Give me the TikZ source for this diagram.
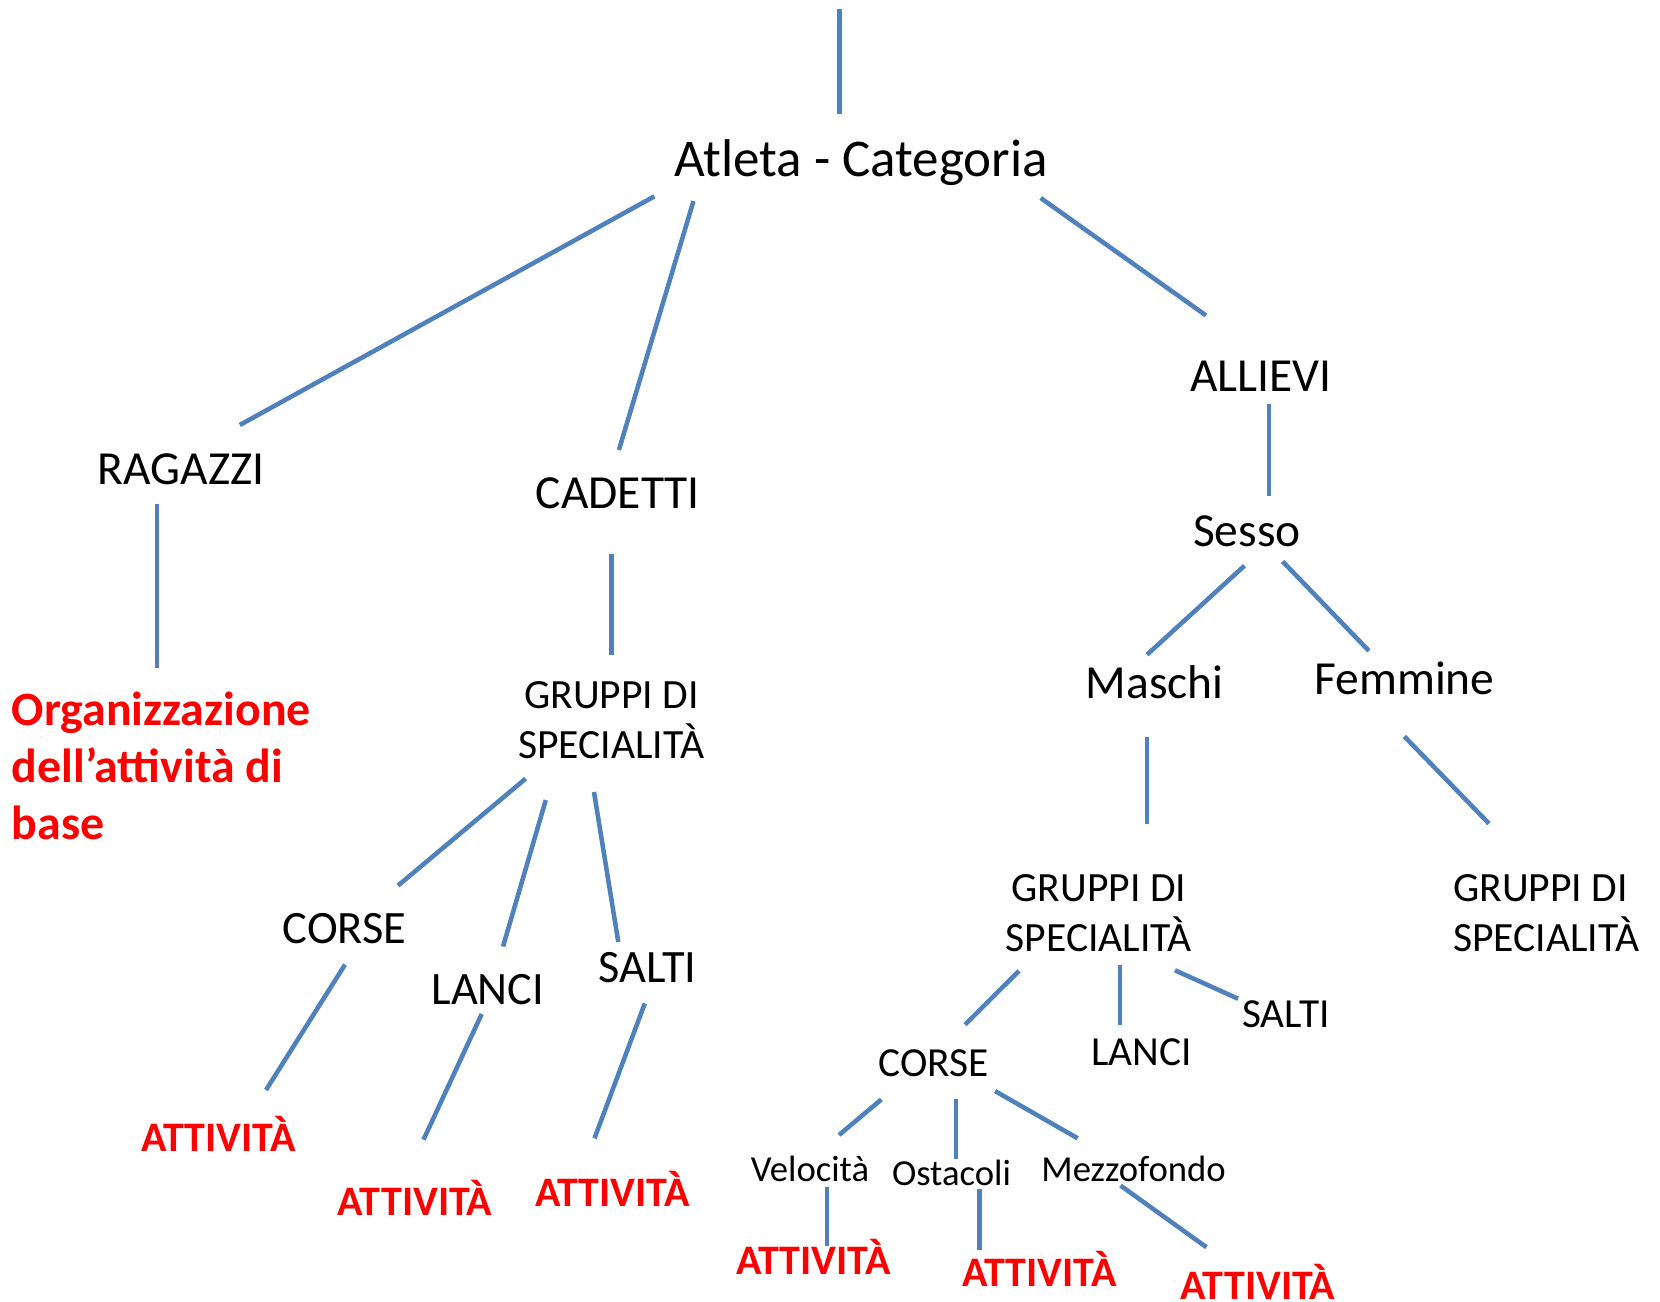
\documentclass[tikz,border=0pt]{standalone}
\usepackage{fontspec}
\setmainfont{Carlito}
\definecolor{lineblue}{HTML}{4F81BD}
\definecolor{actred}{HTML}{FF0000}
\begin{document}
\begin{tikzpicture}[x=0.75pt,y=-0.75pt,
  conn/.style={draw=lineblue, line width=3.4pt},
  lbl/.style={inner sep=0pt, anchor=base, font=\fontsize{35.6}{42}\selectfont},
  title/.style={lbl, font=\fontsize{39.8}{47}\selectfont},
  mid/.style={lbl, font=\fontsize{34.8}{41}\selectfont},
  grp/.style={lbl, align=center, font=\fontsize{31.2}{38}\selectfont},
  small/.style={lbl, font=\fontsize{31}{37}\selectfont},
  tiny/.style={lbl, font=\fontsize{27.5}{32}\selectfont},
  act/.style={lbl, text=actred, font=\fontsize{31.5}{36}\selectfont\bfseries},
  org/.style={inner sep=0pt, anchor=base west, align=left, text=actred, font=\fontsize{35.9}{42.6}\selectfont\bfseries}]
\useasboundingbox (0,0) rectangle (1660,1302);

% nodes
\node[title] (atl) at (861,176.8) {Atleta - Categoria};
\node[lbl] (rag) at (181.3,484) {RAGAZZI};
\node[lbl] (cad) at (618,508) {CADETTI};
\node[lbl] (all) at (1260.8,391.8) {ALLIEVI};
\node[lbl] (ses) at (1246.8,546.4) {Sesso};
\node[lbl] (mas) at (1154.8,698.2) {Maschi};
\node[lbl] (fem) at (1404.4,694.9) {Femmine};
\node[org] (orgz) at (11.5,839.2) {Organizzazione\\dell’attività di\\base};
\node[grp] (gc) at (611.4,758.8) {GRUPPI DI\\SPECIALITÀ};
\node[grp] (gm) at (1098.9,951.9) {GRUPPI DI\\SPECIALITÀ};
\node[grp, anchor=base west, align=left] (gf) at (1453,951.9) {GRUPPI DI\\SPECIALITÀ};
\node[mid] (cc) at (344.5,943.3) {CORSE};
\node[mid] (lc) at (488,1004.9) {LANCI};
\node[mid] (sc) at (647.5,982.6) {SALTI};
\node[act] (a1) at (218.6,1151.6) {ATTIVITÀ};
\node[act] (a2) at (415,1215.5) {ATTIVITÀ};
\node[act] (a3) at (612.5,1206) {ATTIVITÀ};
\node[small] (cm) at (933.7,1076.8) {CORSE};
\node[small] (lm) at (1141.5,1065.4) {LANCI};
\node[small] (sm) at (1286,1027.6) {SALTI};
\node[tiny] (vel) at (810,1181.4) {Velocità};
\node[tiny] (ost) at (951.5,1185.6) {Ostacoli};
\node[tiny] (mez) at (1133.6,1181.4) {Mezzofondo};
\node[act] (a4) at (813.7,1274.6) {ATTIVITÀ};
\node[act] (a5) at (1039.6,1286.4) {ATTIVITÀ};
\node[act] (a6) at (1258,1299) {ATTIVITÀ};

% connector end points
\coordinate (top) at (839.5,9);
\coordinate (atlT) at (839.5,113.6);
\coordinate (atlL) at (654.3,196.4);   \coordinate (ragT) at (239.8,425);
\coordinate (atlM) at (693.5,201);     \coordinate (cadT) at (618.9,450);
\coordinate (atlR) at (1040.7,198);    \coordinate (allT) at (1205.9,315.4);
\coordinate (ragB) at (157,504);       \coordinate (orgT) at (157,668);
\coordinate (cadB) at (611.5,554);     \coordinate (gcT) at (611.5,654.7);
\coordinate (allB) at (1268.9,403.6);  \coordinate (sesT) at (1268.9,496.4);
\coordinate (sesL) at (1244.5,565.7);  \coordinate (masT) at (1147,654.7);
\coordinate (sesR) at (1282.6,561.4);  \coordinate (femT) at (1368.9,650.9);
\coordinate (masB) at (1147,736.5);    \coordinate (gmT) at (1147,823.6);
\coordinate (femB) at (1404.4,736.5);  \coordinate (gfT) at (1489,823.6);
\coordinate (gcL) at (525.7,778.6);    \coordinate (ccT) at (398,885.6);
\coordinate (gcM) at (545.8,800);      \coordinate (lcT) at (503,946.6);
\coordinate (gcR) at (594,792);        \coordinate (scT) at (618.3,942);
\coordinate (ccB) at (345,964.6);      \coordinate (a1T) at (266,1090);
\coordinate (lcB) at (481.7,1014);     \coordinate (a2T) at (423.5,1139.7);
\coordinate (scB) at (644.8,1003.4);   \coordinate (a3T) at (594.5,1138.3);
\coordinate (gmL) at (1019,970.8);     \coordinate (cmT) at (965,1024.7);
\coordinate (gmM) at (1120,964.6);     \coordinate (lmT) at (1120,1024.7);
\coordinate (gmR) at (1175,970.3);     \coordinate (smT) at (1238,998.7);
\coordinate (cmL) at (881.3,1099.5);   \coordinate (velT) at (839,1135);
\coordinate (cmM) at (956,1098.6);     \coordinate (ostT) at (956,1158.7);
\coordinate (cmR) at (995,1091);       \coordinate (mezT) at (1077.7,1138.3);
\coordinate (velB) at (827,1187);      \coordinate (a4T) at (827,1246);
\coordinate (ostB) at (979.3,1189.4);  \coordinate (a5T) at (979.3,1250);
\coordinate (mezB) at (1120.6,1185.6); \coordinate (a6T) at (1206.4,1247.2);

% connectors
\draw[conn] (top) -- (atlT);
\draw[conn] (atlL) -- (ragT);
\draw[conn] (atlM) -- (cadT);
\draw[conn] (atlR) -- (allT);
\draw[conn] (ragB) -- (orgT);
\draw[conn] (cadB) -- (gcT);
\draw[conn] (allB) -- (sesT);
\draw[conn] (sesL) -- (masT);
\draw[conn] (sesR) -- (femT);
\draw[conn] (masB) -- (gmT);
\draw[conn] (femB) -- (gfT);
\draw[conn] (gcL) -- (ccT);
\draw[conn] (gcM) -- (lcT);
\draw[conn] (gcR) -- (scT);
\draw[conn] (ccB) -- (a1T);
\draw[conn] (lcB) -- (a2T);
\draw[conn] (scB) -- (a3T);
\draw[conn] (gmL) -- (cmT);
\draw[conn] (gmM) -- (lmT);
\draw[conn] (gmR) -- (smT);
\draw[conn] (cmL) -- (velT);
\draw[conn] (cmM) -- (ostT);
\draw[conn] (cmR) -- (mezT);
\draw[conn] (velB) -- (a4T);
\draw[conn] (ostB) -- (a5T);
\draw[conn] (mezB) -- (a6T);
\end{tikzpicture}
\end{document}
